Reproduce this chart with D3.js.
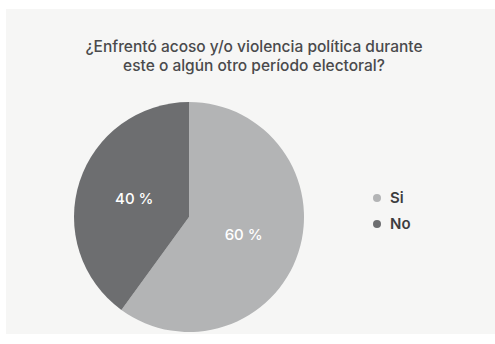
<!DOCTYPE html>
<html>
<head>
<meta charset="utf-8">
<script src="https://cdn.jsdelivr.net/npm/d3@7"></script>
<style>
  html, body { margin: 0; padding: 0; background: #ffffff; }
  svg { display: block; }
</style>
</head>
<body>
<div id="chart"></div>
<script>
// chart data
var categories = ['Si', 'No'];
var values = [60, 40];
var colors = ['#b3b4b5', '#6d6e70'];
var titleLines = ['¿Enfrentó acoso y/o violencia política durante', 'este o algún otro período electoral?'];

var W = 495, H = 344;
var FONT = 'Inter, "Open Sans", "Noto Sans", sans-serif';

var svg = d3.select('#chart').append('svg')
    .attr('width', W)
    .attr('height', H);

// light panel behind everything
svg.append('rect')
    .attr('x', 6).attr('y', 9)
    .attr('width', W - 6).attr('height', 325)
    .attr('fill', '#f6f6f5');

// title
svg.append('g').selectAll('text')
    .data(titleLines)
    .enter().append('text')
    .attr('x', 254)
    .attr('y', function(d, i) { return 52 + i * 19; })
    .attr('text-anchor', 'middle')
    .style('font-family', FONT)
    .style('font-size', '15.5px')
    .style('font-weight', 500)
    .style('fill', '#4a4a4c')
    .text(function(d) { return d; });

// pie
var cx = 189, cy = 217, radius = 115;
var pie = d3.pie().sort(null).value(function(d) { return d; });
var arcs = pie(values);
var arc = d3.arc().innerRadius(0).outerRadius(radius);
var labelArc = d3.arc().innerRadius(0).outerRadius(radius * 1.0);

var g = svg.append('g').attr('transform', 'translate(' + cx + ',' + cy + ')');

g.selectAll('path')
    .data(arcs)
    .enter().append('path')
    .attr('d', arc)
    .attr('fill', function(d, i) { return colors[i]; });

g.selectAll('text')
    .data(arcs)
    .enter().append('text')
    .attr('transform', function(d) {
        var c = labelArc.centroid(d);
        return 'translate(' + c[0] + ',' + c[1] + ')';
    })
    .attr('text-anchor', 'middle')
    .attr('dy', '0.35em')
    .style('font-family', FONT)
    .style('font-size', '15px')
    .style('font-weight', 500)
    .style('fill', '#ffffff')
    .text(function(d) { return d.data + ' %'; });

// legend
var legend = svg.append('g').attr('transform', 'translate(377,198)');
var items = legend.selectAll('g')
    .data(categories)
    .enter().append('g')
    .attr('transform', function(d, i) { return 'translate(0,' + i * 26 + ')'; });

items.append('circle')
    .attr('r', 4)
    .attr('fill', function(d, i) { return colors[i]; });

items.append('text')
    .attr('x', 13)
    .attr('dy', '0.35em')
    .style('font-family', FONT)
    .style('font-size', '15px')
    .style('font-weight', 600)
    .style('fill', '#3d3d3f')
    .text(function(d) { return d; });
</script>
</body>
</html>
